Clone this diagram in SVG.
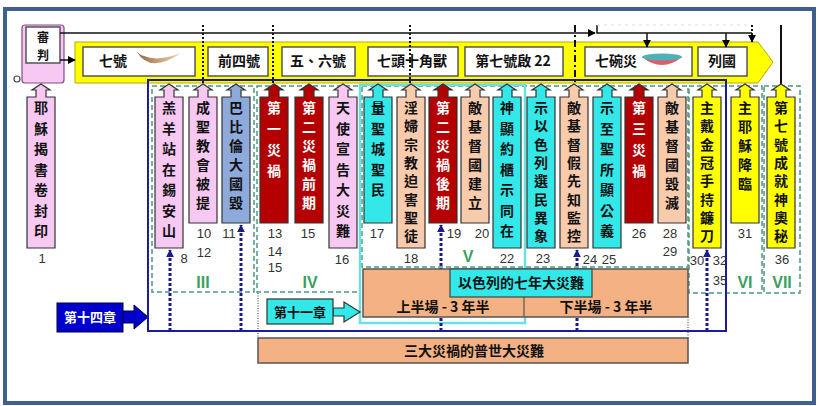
<svg xmlns="http://www.w3.org/2000/svg" width="818" height="406" viewBox="0 0 818 406">
<style>
.bx{stroke:#333;stroke-width:1.2}
.pk{fill:#f6c8f2}.rd{fill:#b40000}.cy{fill:#33e8e8}.pe{fill:#f8cbad}.bl{fill:#8eaadb}.ye{fill:#ffff00}
.ct{font-family:"Noto Sans CJK TC","Noto Sans CJK SC",sans-serif;font-size:14px;font-weight:700;text-anchor:middle;fill:#111}
.wt{fill:#fff}
.num{font-family:"Liberation Sans",Arial,sans-serif;font-size:13px;fill:#333;text-anchor:middle}
.rom{font-family:"Liberation Sans",Arial,sans-serif;font-size:16px;font-weight:700;fill:#3aa060;text-anchor:middle}
.grp{fill:none;stroke:#4a9a7a;stroke-width:1.5;stroke-dasharray:5 3}
.dot{fill:none;stroke:#111;stroke-width:2;stroke-dasharray:2 2}
.bd{fill:none;stroke:#1a1a8c;stroke-width:3;stroke-dasharray:3 2}
.ln{fill:none;stroke:#111;stroke-width:1.5}
.tb{fill:#fff;stroke:#555;stroke-width:1.5}
</style>
<defs>
<marker id="ah" viewBox="0 0 10 10" refX="9" refY="5" markerWidth="8" markerHeight="8" markerUnits="userSpaceOnUse" orient="auto"><path d="M0,0 L10,5 L0,10 z" fill="#000"/></marker>
<marker id="bh" viewBox="0 0 10 10" refX="9" refY="5" markerWidth="8" markerHeight="8" markerUnits="userSpaceOnUse" orient="auto"><path d="M0,0 L10,5 L0,10 z" fill="#1a1a8c"/></marker>
<linearGradient id="horn" x1="0" y1="0" x2="1" y2="0"><stop offset="0" stop-color="#8a6a44"/><stop offset="0.5" stop-color="#c9a278"/><stop offset="1" stop-color="#e6d2b0"/></linearGradient>
</defs>
<rect width="818" height="406" fill="#fff"/>
<rect x="5" y="9" width="809" height="394" fill="none" stroke="#3f5f8f" stroke-width="4"/>

<g id="judgement">
<rect x="22" y="25" width="42" height="58" rx="3" fill="#f6c8f2" stroke="#8a4a8a" stroke-width="1.2"/>
<rect x="26" y="27" width="34" height="36" class="tb" stroke="#333"/>
<text class="ct" x="43" y="42" style="font-size:12px">審</text>
<text class="ct" x="43" y="59.6" style="font-size:12px">判</text>
<circle cx="17" cy="79" r="3" fill="none" stroke="#444" stroke-width="1.2"/>
</g>

<g id="band">
<path d="M75 42H758L773 62L758 83H75Z" fill="#ffff00" stroke="#b8a800" stroke-width="1"/>
<g id="n-seven-trumpets"><rect x="83" y="47" width="112" height="29" class="tb"/>
<text class="ct" x="113" y="66">七號</text>
<path d="M137 52Q150 74 181 53Q158 62 144 56Q140 55 137 52Z" fill="url(#horn)"/></g>
<g id="n-first-four"><rect x="208" y="47" width="60" height="29" class="tb"/><text class="ct" x="239" y="66">前四號</text></g>
<g id="n-five-six"><rect x="282" y="47" width="73" height="29" class="tb"/><text class="ct" x="318" y="66">五、六號</text></g>
<g id="n-beast"><rect x="368" y="47" width="90" height="29" class="tb"/><text class="ct" x="412" y="66">七頭十角獸</text></g>
<g id="n-seventh"><rect x="465" y="47" width="98" height="29" class="tb"/><text class="ct" x="513" y="66">第七號啟 22</text></g>
<g id="n-bowls"><rect x="585" y="47" width="107" height="29" class="tb"/><text class="ct" x="616" y="66">七碗災</text>
<path d="M642 57Q662 73 682 57Z" fill="#d9606a"/><ellipse cx="662" cy="57" rx="20" ry="3.5" fill="#50b0b8"/></g>
<g id="n-nations"><rect x="698" y="47" width="49" height="29" class="tb"/><text class="ct" x="722" y="66">列國</text></g>
</g>

<g id="groups">
<rect x="152" y="86" width="102" height="206" class="grp"/>
<rect x="257" y="86" width="103" height="206" class="grp"/>
<rect x="362" y="86" width="326" height="181" class="grp"/>
<rect x="689" y="86" width="73" height="207" class="grp"/>
<rect x="764" y="86" width="36" height="207" class="grp"/>
<rect x="360" y="85" width="165" height="238" fill="none" stroke="#6ee0e0" stroke-width="2.5"/>
</g>

<g id="connectors">
<line x1="60" y1="33" x2="595" y2="33" class="ln" marker-end="url(#ah)"/>
<polyline points="597,25 597,33 752,33" class="ln"/>
<line x1="597" y1="25" x2="752" y2="25" stroke="#ddd" stroke-width="1" stroke-dasharray="3 4"/>
<line x1="647" y1="33" x2="647" y2="47" class="ln" marker-end="url(#ah)"/>
<line x1="726" y1="33" x2="726" y2="47" class="ln" marker-end="url(#ah)"/>
<line x1="752" y1="25" x2="752" y2="42" class="dot" marker-end="url(#ah)"/>
<line x1="60" y1="60" x2="75" y2="60" class="ln" marker-end="url(#ah)"/>
<line x1="781" y1="25" x2="781" y2="84" stroke="#111" stroke-width="2"/>
<line x1="203" y1="25" x2="203" y2="84" class="dot"/>
<line x1="273" y1="25" x2="273" y2="84" class="dot"/>
<line x1="410" y1="25" x2="410" y2="84" class="dot"/>
<line x1="575" y1="25" x2="575" y2="84" fill="none" stroke="#111" stroke-width="2" stroke-dasharray="7 3 2 3"/>
<line x1="170" y1="331" x2="170" y2="250" class="bd" marker-end="url(#bh)"/>
<line x1="241" y1="331" x2="241" y2="225" class="bd" marker-end="url(#bh)"/>
<line x1="441" y1="331" x2="441" y2="225" class="bd" marker-end="url(#bh)"/>
<line x1="577" y1="331" x2="577" y2="250" class="bd" marker-end="url(#bh)"/>
<line x1="707" y1="331" x2="707" y2="250" class="bd" marker-end="url(#bh)"/>
<line x1="258" y1="293" x2="258" y2="338" stroke="#333" stroke-width="1" stroke-dasharray="1 1.5"/>
<line x1="688" y1="317" x2="688" y2="338" stroke="#333" stroke-width="1" stroke-dasharray="1 1.5"/>
<polygon points="123,311 134,311 134,305 148,317 134,329 134,323 123,323" fill="#0000cc" stroke="#000044" stroke-width="1"/>
<polygon points="333,308 344,308 344,302 360,312 344,322 344,316 333,316" fill="#33e8e8" stroke="#333" stroke-width="1.2"/>
</g>

<g id="c1"><path class="bx pk" d="M27 248V97H36V90H32L41 84L50 90H46V97H55V248Z"/>
<text class="ct"><tspan x="41" y="113">耶</tspan><tspan x="41" y="133.5">穌</tspan><tspan x="41" y="154">揭</tspan><tspan x="41" y="174.5">書</tspan><tspan x="41" y="195">卷</tspan><tspan x="41" y="215.5">封</tspan><tspan x="41" y="236">印</tspan></text></g>
<g id="c2"><path class="bx pk" d="M155 248V97H164V90H160L169 84L178 90H174V97H183V248Z"/>
<text class="ct"><tspan x="169" y="113">羔</tspan><tspan x="169" y="133.5">羊</tspan><tspan x="169" y="154">站</tspan><tspan x="169" y="174.5">在</tspan><tspan x="169" y="195">錫</tspan><tspan x="169" y="215.5">安</tspan><tspan x="169" y="236">山</tspan></text></g>
<g id="c3"><path class="bx pk" d="M189 223V97H198V90H194L203 84L212 90H208V97H217V223Z"/>
<text class="ct"><tspan x="203" y="113">成</tspan><tspan x="203" y="132">聖</tspan><tspan x="203" y="151">教</tspan><tspan x="203" y="170">會</tspan><tspan x="203" y="189">被</tspan><tspan x="203" y="208">提</tspan></text></g>
<g id="c4"><path class="bx bl" d="M222 223V97H231V90H227L236 84L245 90H241V97H250V223Z"/>
<text class="ct"><tspan x="236" y="113">巴</tspan><tspan x="236" y="132">比</tspan><tspan x="236" y="151">倫</tspan><tspan x="236" y="170">大</tspan><tspan x="236" y="189">國</tspan><tspan x="236" y="208">毀</tspan></text></g>
<g id="c5"><path class="bx rd" d="M260 223V97H269V90H265L274 84L283 90H279V97H288V223Z"/>
<text class="ct wt"><tspan x="274" y="113">第</tspan><tspan x="274" y="134">一</tspan><tspan x="274" y="155">災</tspan><tspan x="274" y="176">禍</tspan></text></g>
<g id="c6"><path class="bx rd" d="M295 223V97H304V90H300L309 84L318 90H314V97H323V223Z"/>
<text class="ct wt"><tspan x="309" y="113">第</tspan><tspan x="309" y="132">二</tspan><tspan x="309" y="151">災</tspan><tspan x="309" y="170">禍</tspan><tspan x="309" y="189">前</tspan><tspan x="309" y="208">期</tspan></text></g>
<g id="c7"><path class="bx pk" d="M329 248V97H338V90H334L343 84L352 90H348V97H357V248Z"/>
<text class="ct"><tspan x="343" y="113">天</tspan><tspan x="343" y="133.5">使</tspan><tspan x="343" y="154">宣</tspan><tspan x="343" y="174.5">告</tspan><tspan x="343" y="195">大</tspan><tspan x="343" y="215.5">災</tspan><tspan x="343" y="236">難</tspan></text></g>
<g id="c8"><path class="bx cy" d="M364 223V97H373V90H369L378 84L387 90H383V97H392V223Z"/>
<text class="ct"><tspan x="378" y="113">量</tspan><tspan x="378" y="133.5">聖</tspan><tspan x="378" y="154">城</tspan><tspan x="378" y="174.5">聖</tspan><tspan x="378" y="195">民</tspan></text></g>
<g id="c9"><path class="bx pe" d="M397 248V97H406V90H402L411 84L420 90H416V97H425V248Z"/>
<text class="ct"><tspan x="411" y="113">淫</tspan><tspan x="411" y="131.3">婦</tspan><tspan x="411" y="149.6">宗</tspan><tspan x="411" y="167.9">教</tspan><tspan x="411" y="186.2">迫</tspan><tspan x="411" y="204.5">害</tspan><tspan x="411" y="222.8">聖</tspan><tspan x="411" y="241.1">徒</tspan></text></g>
<g id="c10"><path class="bx rd" d="M429 223V97H438V90H434L443 84L452 90H448V97H457V223Z"/>
<text class="ct wt"><tspan x="443" y="113">第</tspan><tspan x="443" y="132">二</tspan><tspan x="443" y="151">災</tspan><tspan x="443" y="170">禍</tspan><tspan x="443" y="189">後</tspan><tspan x="443" y="208">期</tspan></text></g>
<g id="c11"><path class="bx pe" d="M461 223V97H470V90H466L475 84L484 90H480V97H489V223Z"/>
<text class="ct"><tspan x="475" y="113">敵</tspan><tspan x="475" y="132">基</tspan><tspan x="475" y="151">督</tspan><tspan x="475" y="170">國</tspan><tspan x="475" y="189">建</tspan><tspan x="475" y="208">立</tspan></text></g>
<g id="c12"><path class="bx cy" d="M493 248V97H502V90H498L507 84L516 90H512V97H521V248Z"/>
<text class="ct"><tspan x="507" y="113">神</tspan><tspan x="507" y="133.5">顯</tspan><tspan x="507" y="154">約</tspan><tspan x="507" y="174.5">櫃</tspan><tspan x="507" y="195">示</tspan><tspan x="507" y="215.5">同</tspan><tspan x="507" y="236">在</tspan></text></g>
<g id="c13"><path class="bx cy" d="M527 248V97H536V90H532L541 84L550 90H546V97H555V248Z"/>
<text class="ct"><tspan x="541" y="113">示</tspan><tspan x="541" y="131.3">以</tspan><tspan x="541" y="149.6">色</tspan><tspan x="541" y="167.9">列</tspan><tspan x="541" y="186.2">選</tspan><tspan x="541" y="204.5">民</tspan><tspan x="541" y="222.8">異</tspan><tspan x="541" y="241.1">象</tspan></text></g>
<g id="c14"><path class="bx pe" d="M560 248V97H569V90H565L574 84L583 90H579V97H588V248Z"/>
<text class="ct"><tspan x="574" y="113">敵</tspan><tspan x="574" y="131.3">基</tspan><tspan x="574" y="149.6">督</tspan><tspan x="574" y="167.9">假</tspan><tspan x="574" y="186.2">先</tspan><tspan x="574" y="204.5">知</tspan><tspan x="574" y="222.8">監</tspan><tspan x="574" y="241.1">控</tspan></text></g>
<g id="c15"><path class="bx cy" d="M593 248V97H602V90H598L607 84L616 90H612V97H621V248Z"/>
<text class="ct"><tspan x="607" y="113">示</tspan><tspan x="607" y="133.5">至</tspan><tspan x="607" y="154">聖</tspan><tspan x="607" y="174.5">所</tspan><tspan x="607" y="195">顯</tspan><tspan x="607" y="215.5">公</tspan><tspan x="607" y="236">義</tspan></text></g>
<g id="c16"><path class="bx rd" d="M625 223V97H634V90H630L639 84L648 90H644V97H653V223Z"/>
<text class="ct wt"><tspan x="639" y="113">第</tspan><tspan x="639" y="134">三</tspan><tspan x="639" y="155">災</tspan><tspan x="639" y="176">禍</tspan></text></g>
<g id="c17"><path class="bx pe" d="M658 223V97H667V90H663L672 84L681 90H677V97H686V223Z"/>
<text class="ct"><tspan x="672" y="113">敵</tspan><tspan x="672" y="132">基</tspan><tspan x="672" y="151">督</tspan><tspan x="672" y="170">國</tspan><tspan x="672" y="189">毀</tspan><tspan x="672" y="208">滅</tspan></text></g>
<g id="c18"><path class="bx ye" d="M693 248V97H702V90H698L707 84L716 90H712V97H721V248Z"/>
<text class="ct"><tspan x="707" y="113">主</tspan><tspan x="707" y="131.3">戴</tspan><tspan x="707" y="149.6">金</tspan><tspan x="707" y="167.9">冠</tspan><tspan x="707" y="186.2">手</tspan><tspan x="707" y="204.5">持</tspan><tspan x="707" y="222.8">鐮</tspan><tspan x="707" y="241.1">刀</tspan></text></g>
<g id="c19"><path class="bx ye" d="M731 223V97H740V90H736L745 84L754 90H750V97H759V223Z"/>
<text class="ct"><tspan x="745" y="113">主</tspan><tspan x="745" y="132">耶</tspan><tspan x="745" y="151">穌</tspan><tspan x="745" y="170">降</tspan><tspan x="745" y="189">臨</tspan></text></g>
<g id="c20"><path class="bx ye" d="M767 248V97H776V90H772L781 84L790 90H786V97H795V248Z"/>
<text class="ct"><tspan x="781" y="113">第</tspan><tspan x="781" y="131.3">七</tspan><tspan x="781" y="149.6">號</tspan><tspan x="781" y="167.9">成</tspan><tspan x="781" y="186.2">就</tspan><tspan x="781" y="204.5">神</tspan><tspan x="781" y="222.8">奧</tspan><tspan x="781" y="241.1">秘</tspan></text></g>

<g id="numbers" class="num">
<text x="42" y="263">1</text><text x="184" y="263">8</text>
<text x="204" y="238">10</text><text x="204" y="257">12</text><text x="229" y="238">11</text>
<text x="275" y="238">13</text><text x="275" y="256">14</text><text x="275" y="272">15</text>
<text x="308" y="238">15</text><text x="342" y="264">16</text><text x="377" y="238">17</text>
<text x="411" y="263">18</text><text x="454" y="238">19</text><text x="482" y="238">20</text>
<text x="507" y="263">22</text><text x="543" y="263">23</text><text x="590" y="264">24</text>
<text x="609" y="264">25</text><text x="639" y="238">26</text><text x="670" y="238">28</text>
<text x="670" y="256">29</text><text x="697" y="265">30</text><text x="720" y="265">32</text>
<text x="720" y="285">35</text><text x="745" y="238">31</text><text x="782" y="264">36</text>
</g>
<g id="roman" class="rom">
<text x="203" y="288">III</text><text x="310" y="288">IV</text><text x="468" y="262">V</text>
<text x="745" y="288">VI</text><text x="782" y="288">VII</text>
</g>

<g id="n-tribulation">
<rect x="363" y="269" width="325" height="48" fill="#f4b183" stroke="#555" stroke-width="1.5"/>
<line x1="524" y1="297" x2="524" y2="317" stroke="#555" stroke-width="1.2"/>
<rect x="450" y="269" width="142" height="28" fill="#33e8e8" stroke="#444" stroke-width="1.2"/>
<text class="ct" x="521" y="288">以色列的七年大災難</text>
<text class="ct" x="443" y="312">上半場 - 3 年半</text>
<text class="ct" x="606" y="312">下半場 - 3 年半</text>
</g>
<g id="n-universal">
<rect x="258" y="338" width="430" height="25" fill="#f4b183" stroke="#555" stroke-width="1.5"/>
<text class="ct" x="474" y="356">三大災禍的普世大災難</text>
</g>
<g id="n-ch14">
<rect x="57" y="303" width="66" height="29" fill="#0000cc" stroke="#000044" stroke-width="1"/>
<text class="ct wt" x="90" y="322" style="font-size:13px">第十四章</text>
</g>
<g id="n-ch11">
<rect x="267" y="299" width="66" height="25" fill="#33e8e8" stroke="#333" stroke-width="1.2"/>
<text class="ct" x="300" y="317" style="font-size:13px">第十一章</text>
</g>
<rect id="main-frame" x="148" y="80" width="578" height="251" fill="none" stroke="#1c1c9a" stroke-width="2"/>
</svg>
